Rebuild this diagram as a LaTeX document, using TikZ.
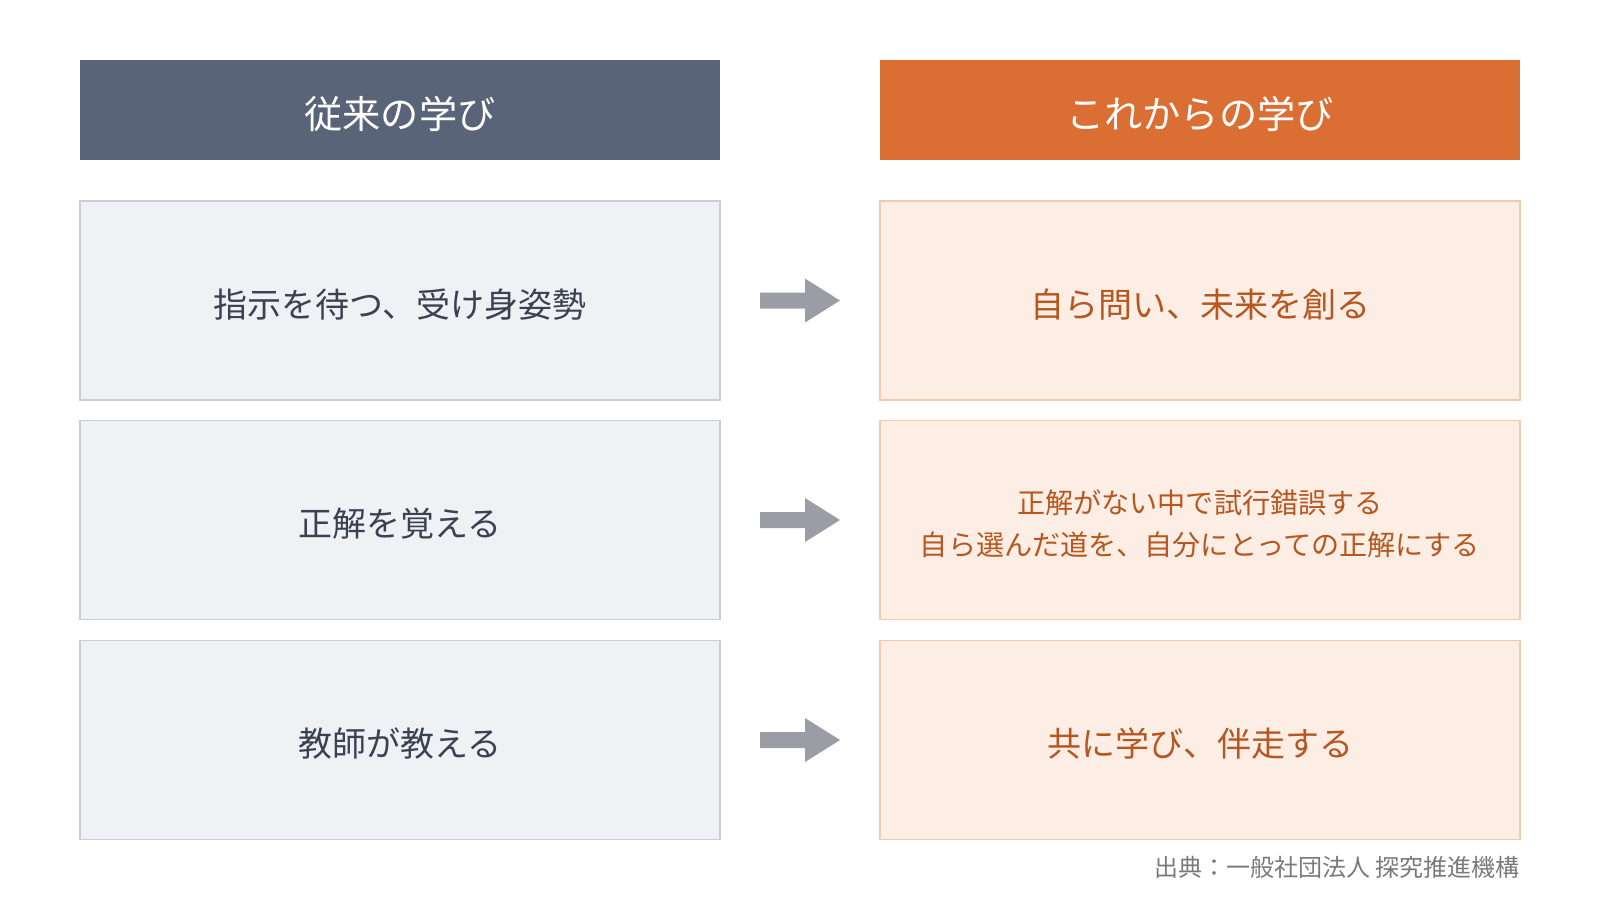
\documentclass[tikz,border=0pt]{standalone}
\usepackage{fontspec}
\setmainfont{Noto Sans CJK JP}
\newfontfamily\jp{Noto Sans CJK JP}
\definecolor{hdrL}{HTML}{5A6478}
\definecolor{hdrR}{HTML}{DB6E33}
\definecolor{boxL}{HTML}{F0F1F5}
\definecolor{bdrL}{HTML}{C9CDD8}
\definecolor{boxR}{HTML}{FCEEE4}
\definecolor{bdrR}{HTML}{F1CBAE}
\definecolor{txtL}{HTML}{3A4252}
\definecolor{txtR}{HTML}{B8561F}
\definecolor{arr}{HTML}{9C9CA6}
\definecolor{src}{HTML}{7A7A7A}
\begin{document}
\begin{tikzpicture}[x=1pt,y=-1pt,
  hdr/.style={minimum width=640pt,minimum height=100pt,inner sep=0pt},
  hdrtext/.style={inner sep=0pt,text=white,font=\jp\fontsize{38.2}{44}\selectfont},
  lbox/.style={draw=bdrL,fill=boxL,line width=1.5pt,minimum width=640pt,minimum height=199pt,inner sep=0pt},
  rbox/.style={draw=bdrR,fill=boxR,line width=1.5pt,minimum width=640pt,minimum height=199pt,inner sep=0pt},
  ltext/.style={inner sep=0pt,text=txtL,font=\jp\fontsize{34}{40}\selectfont},
  rtext/.style={inner sep=0pt,text=txtR,font=\jp\fontsize{34}{40}\selectfont,align=center},
  bigarrow/.style={fill=arr,draw=none}]
\useasboundingbox (0,0) rectangle (1600,900);
\node[hdr,fill=hdrL] (hL) at (400,110) {};
\node[hdr,fill=hdrR] (hR) at (1200,110) {};
\node[hdrtext] (thL) at ([yshift=-4pt]hL.center) {従来の学び};
\node[hdrtext] (thR) at ([yshift=-4pt]hR.center) {これからの学び};
\node[lbox] (l1) at (400,300.5) {};
\node[lbox] (l2) at (400,520) {};
\node[lbox] (l3) at (400,740) {};
\node[rbox] (r1) at (1200,300.5) {};
\node[rbox] (r2) at (1200,520) {};
\node[rbox] (r3) at (1200,740) {};
\node[ltext] (tl1) at ([yshift=-4pt]l1.center) {指示を待つ、受け身姿勢};
\node[ltext] (tl2) at ([yshift=-4pt]l2.center) {正解を覚える};
\node[ltext] (tl3) at ([yshift=-4pt]l3.center) {教師が教える};
\node[rtext] (tr1) at ([yshift=-4pt]r1.center) {自ら問い、未来を創る};
\node[rtext,font=\jp\fontsize{28.1}{42}\selectfont] (tr2) at ([yshift=-3.5pt]r2.center) {正解がない中で試行錯誤する\\自ら選んだ道を、自分にとっての正解にする};
\node[rtext] (tr3) at ([yshift=-4pt]r3.center) {共に学び、伴走する};
\foreach \n in {1,2,3}{
  \path (l\n.center) -- (r\n.center) coordinate[pos=0.5] (m\n);
  \fill[bigarrow] ([xshift=-40pt,yshift=-8pt]m\n) -- ([xshift=5pt,yshift=-8pt]m\n) -- ([xshift=5pt,yshift=-22pt]m\n) -- ([xshift=40pt]m\n) -- ([xshift=5pt,yshift=22pt]m\n) -- ([xshift=5pt,yshift=8pt]m\n) -- ([xshift=-40pt,yshift=8pt]m\n) -- cycle;
}
\node[anchor=east,text=src,font=\jp\fontsize{24}{28}\selectfont,inner sep=0pt] (s) at (1520,867) {出典：一般社団法人 探究推進機構};
\end{tikzpicture}
\end{document}
